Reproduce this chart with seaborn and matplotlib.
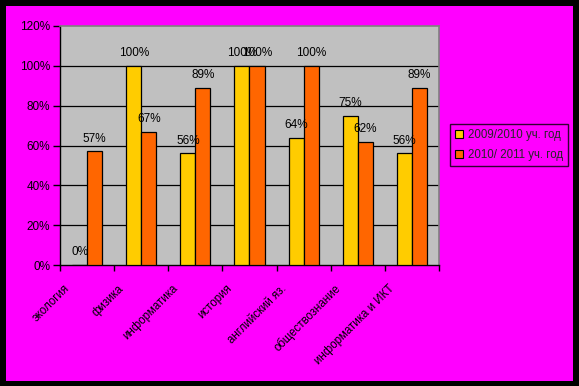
import matplotlib
matplotlib.use("Agg")
import matplotlib.pyplot as plt
import matplotlib.transforms as mtransforms
from matplotlib.patches import Rectangle
from matplotlib.lines import Line2D
import seaborn as sns
import pandas as pd

categories = ["экология", "физика", "информатика", "история",
              "английский яз.", "обществознание", "информатика и ИКТ"]
series_names = ["2009/2010 уч. год", "2010/ 2011 уч. год"]
values_2009 = [0, 100, 56, 100, 64, 75, 56]
values_2010 = [57, 67, 89, 100, 100, 62, 89]
yticks = [0, 20, 40, 60, 80, 100, 120]
colors = ["#FFCC00", "#FF6600"]

sns.set_theme(style="white")
plt.rcParams['font.family'] = ['Liberation Sans', 'DejaVu Sans']

df = pd.DataFrame({
    "cat": categories * 2,
    "series": [series_names[0]] * 7 + [series_names[1]] * 7,
    "val": values_2009 + values_2010,
})

W, H = 579, 386
fig = plt.figure(figsize=(W / 100, H / 100), dpi=100)
fig.patch.set_facecolor("black")
fig.patches.append(Rectangle((6 / W, 5 / H), 567 / W, 375 / H,
                             transform=fig.transFigure, facecolor="#FF00FF",
                             edgecolor="none", zorder=-10))

ax = fig.add_axes([60 / W, (H - 265) / H, 379 / W, 239 / H])
ax.set_facecolor("#C0C0C0")

sns.barplot(data=df, x="cat", y="val", hue="series", order=categories,
            hue_order=series_names, palette=colors, width=0.555,
            saturation=1, edgecolor="black", linewidth=0.9, ax=ax,
            legend=False, zorder=3)

ax.set_ylim(0, 120)
ax.set_xlim(-0.5, len(categories) - 0.5)
ax.set_yticks(yticks)
ax.set_yticklabels([f"{t}%" for t in yticks], fontsize=8.5)
for t in yticks[1:-1]:
    ax.axhline(t, color="black", linewidth=0.9, zorder=1)

for s in ["top", "right"]:
    ax.spines[s].set_color("#808080")
    ax.spines[s].set_linewidth(1.2)
for s in ["left", "bottom"]:
    ax.spines[s].set_color("black")
    ax.spines[s].set_linewidth(1.0)

ax.tick_params(axis="y", direction="out", length=5, width=1, color="black",
               left=True, pad=2, labelcolor="black")
ax.set_xticks([i - 0.5 for i in range(len(categories) + 1)], minor=False)
ax.set_xticklabels([])
ax.tick_params(axis="x", direction="out", length=4, width=1, color="black",
               bottom=True)
ax.set_xlabel("")
ax.set_ylabel("")

offset = mtransforms.ScaledTranslation(-19 / 100, -22 / 100, fig.dpi_scale_trans)
for i, c in enumerate(categories):
    ax.text(i, 0, c, rotation=45, ha="right", va="center",
            rotation_mode="anchor", fontsize=8.3, color="black",
            transform=ax.transData + offset, clip_on=False)

for cont in ax.containers:
    for bar in cont:
        h = bar.get_height()
        ax.annotate(f"{h:.0f}%", (bar.get_x() + bar.get_width() / 2, h),
                    xytext=(0, 5), textcoords="offset points",
                    ha="center", va="bottom", fontsize=8.5, color="black",
                    zorder=5)

handles = [Line2D([0], [0], marker="s", linestyle="none", markersize=6,
                  markerfacecolor=col, markeredgecolor="black",
                  markeredgewidth=0.8) for col in colors]
leg = fig.legend(handles, series_names, loc="center left",
                 bbox_to_anchor=(450 / W, 1 - 145 / H), fontsize=8.3,
                 frameon=True, fancybox=False, handletextpad=0.4,
                 borderpad=0.4, borderaxespad=0, labelspacing=0.75,
                 handlelength=0.8)
leg.get_frame().set_facecolor("#FF00FF")
leg.get_frame().set_edgecolor("black")
leg.get_frame().set_linewidth(1.0)

fig.savefig("out.png", dpi=100, facecolor=fig.get_facecolor())
